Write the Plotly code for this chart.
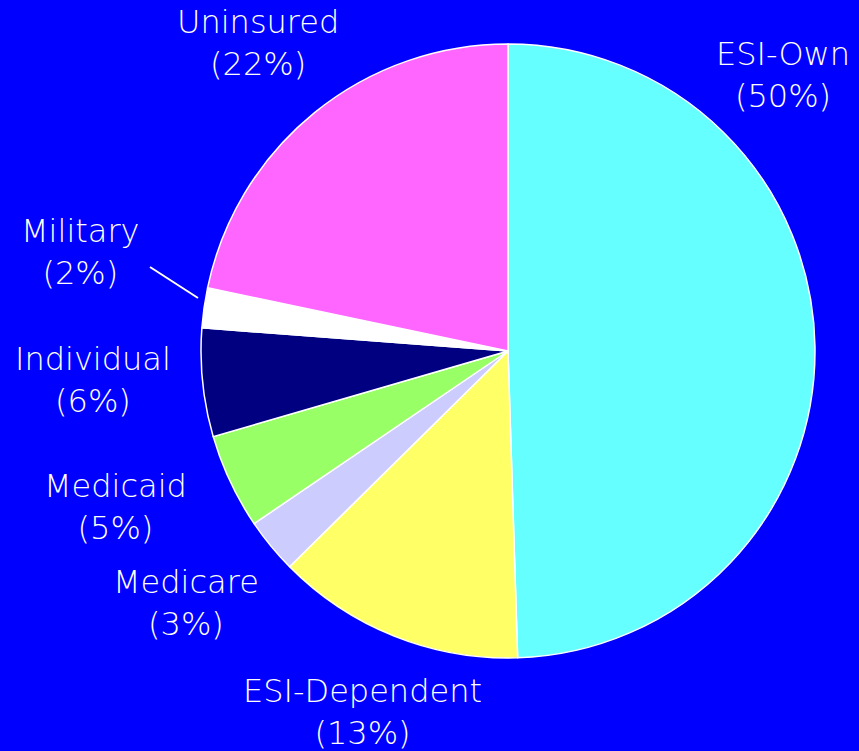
import plotly.graph_objects as go

labels = ["ESI-Own", "ESI-Dependent", "Medicare", "Medicaid", "Individual", "Military", "Uninsured"]
values = [49.5, 13.1, 2.9, 5.0, 5.7, 2.1, 21.7]
shown_pct = ["50%", "13%", "3%", "5%", "6%", "2%", "22%"]
colors = ["#66FFFF", "#FFFF66", "#CCCCFF", "#99FF66", "#000080", "#FFFFFF", "#FF66FF"]

W, H = 859, 751
cx, cy, r = 508, 351, 307

fig = go.Figure(go.Pie(
    labels=labels, values=values, sort=False, direction="clockwise", rotation=0,
    marker=dict(colors=colors, line=dict(color="white", width=1.5)),
    textinfo="none", hoverinfo="label+percent", showlegend=False,
    domain=dict(x=[(cx - r) / W, (cx + r) / W], y=[1 - (cy + r) / H, 1 - (cy - r) / H]),
))

# label positions (pixel centers of the two-line labels)
label_pos = [(783, 75), (362, 712), (186, 603), (115, 507), (93, 380), (80, 252), (258, 43)]
for lab, pct, (x, y) in zip(labels, shown_pct, label_pos):
    fig.add_annotation(x=x / W, y=1 - y / H, xref="paper", yref="paper",
                       text=f"{lab}<br>({pct})", showarrow=False,
                       font=dict(family="DejaVu Sans", size=32, color="white", weight=300),
                       align="center", xanchor="center", yanchor="middle")

fig.add_shape(type="line", xref="paper", yref="paper",
              x0=150 / W, y0=1 - 267 / H, x1=198 / W, y1=1 - 298 / H,
              line=dict(color="white", width=2))

fig.update_layout(width=W, height=H, paper_bgcolor="#0000FF", plot_bgcolor="#0000FF",
                  margin=dict(l=0, r=0, t=0, b=0))
fig.write_html("out.html", config={"displayModeBar": False},
               post_script="document.body.style.margin='0';document.body.style.background='#0000FF';")
